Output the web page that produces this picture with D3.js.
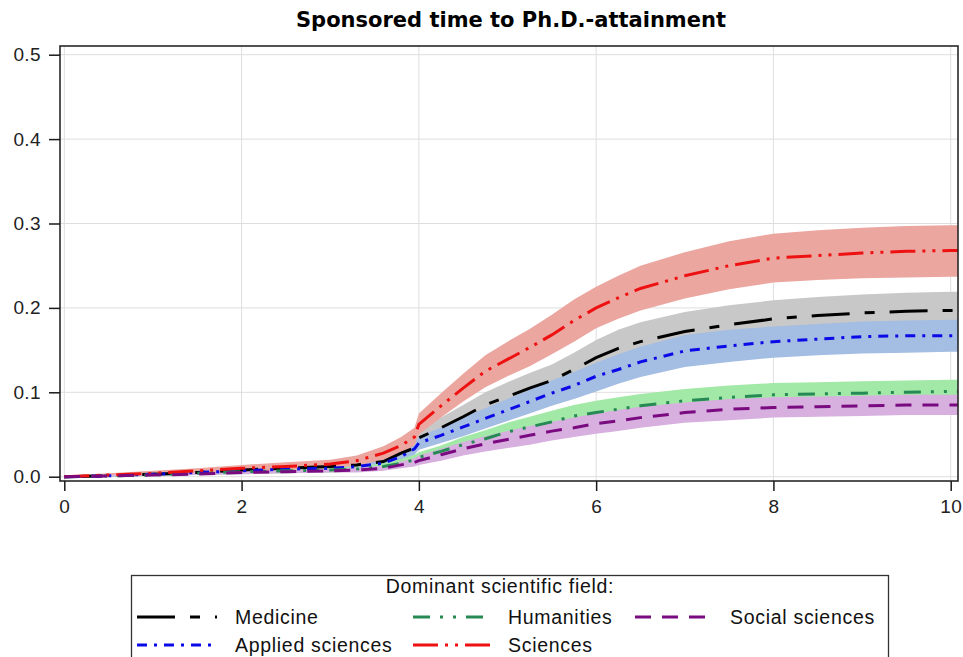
<!DOCTYPE html>
<html>
<head>
<meta charset="utf-8">
<script src="https://cdn.jsdelivr.net/npm/d3@7"></script>
<style>
  html, body { margin: 0; padding: 0; background: #fff; }
  svg { display: block; }
</style>
</head>
<body>
<div id="chart"></div>
<script>
// time axis (years)
const times = [0, 0.5, 1, 1.5, 2, 2.5, 3, 3.3, 3.6, 3.8, 3.95, 4.0, 4.25, 4.5, 4.75, 5.0, 5.25, 5.5, 5.75, 6.0, 6.25, 6.5, 7.0, 7.5, 8.0, 8.5, 9.0, 9.5, 10.0, 10.08];

// cumulative incidence estimates
const medicine     = [0, 0.001, 0.003, 0.005, 0.008, 0.010, 0.012, 0.014, 0.018, 0.028, 0.034, 0.046, 0.058, 0.071, 0.085, 0.095, 0.105, 0.114, 0.127, 0.141, 0.152, 0.160, 0.172, 0.180, 0.187, 0.191, 0.194, 0.196, 0.197, 0.197];
const medicineLo   = [0, 0, 0.001, 0.003, 0.005, 0.007, 0.008, 0.010, 0.013, 0.021, 0.026, 0.036, 0.046, 0.058, 0.070, 0.079, 0.088, 0.096, 0.108, 0.121, 0.131, 0.139, 0.150, 0.157, 0.163, 0.167, 0.170, 0.172, 0.173, 0.173];
const medicineHi   = [0.001, 0.003, 0.005, 0.008, 0.011, 0.013, 0.016, 0.019, 0.024, 0.035, 0.043, 0.056, 0.070, 0.085, 0.100, 0.112, 0.123, 0.133, 0.147, 0.162, 0.174, 0.183, 0.195, 0.203, 0.209, 0.213, 0.216, 0.218, 0.219, 0.219];

const applied      = [0, 0.001, 0.003, 0.005, 0.007, 0.009, 0.010, 0.012, 0.016, 0.024, 0.033, 0.040, 0.049, 0.059, 0.069, 0.079, 0.089, 0.099, 0.108, 0.119, 0.127, 0.136, 0.149, 0.155, 0.160, 0.163, 0.166, 0.167, 0.167, 0.167];
const appliedLo    = [0, 0, 0.001, 0.003, 0.004, 0.006, 0.007, 0.009, 0.012, 0.018, 0.026, 0.032, 0.040, 0.048, 0.057, 0.066, 0.075, 0.084, 0.092, 0.101, 0.110, 0.118, 0.130, 0.136, 0.141, 0.144, 0.146, 0.147, 0.148, 0.148];
const appliedHi    = [0.001, 0.003, 0.005, 0.007, 0.010, 0.012, 0.013, 0.016, 0.021, 0.030, 0.040, 0.048, 0.058, 0.070, 0.081, 0.092, 0.103, 0.114, 0.124, 0.135, 0.145, 0.154, 0.168, 0.174, 0.178, 0.181, 0.184, 0.185, 0.186, 0.186];

const humanities   = [0, 0.001, 0.002, 0.004, 0.006, 0.007, 0.008, 0.009, 0.012, 0.016, 0.020, 0.023, 0.030, 0.038, 0.045, 0.053, 0.059, 0.065, 0.072, 0.076, 0.080, 0.084, 0.090, 0.094, 0.097, 0.098, 0.099, 0.100, 0.101, 0.101];
const humanitiesLo = [0, 0, 0.001, 0.002, 0.003, 0.004, 0.005, 0.006, 0.008, 0.011, 0.014, 0.017, 0.023, 0.029, 0.036, 0.042, 0.048, 0.053, 0.059, 0.063, 0.067, 0.070, 0.076, 0.080, 0.083, 0.084, 0.085, 0.086, 0.087, 0.087];
const humanitiesHi = [0.001, 0.002, 0.004, 0.006, 0.008, 0.010, 0.011, 0.012, 0.016, 0.021, 0.026, 0.029, 0.037, 0.047, 0.055, 0.064, 0.071, 0.078, 0.085, 0.090, 0.094, 0.098, 0.104, 0.108, 0.111, 0.112, 0.113, 0.114, 0.115, 0.115];

const sciences     = [0, 0.002, 0.004, 0.007, 0.010, 0.012, 0.015, 0.019, 0.028, 0.037, 0.047, 0.062, 0.084, 0.105, 0.125, 0.139, 0.153, 0.168, 0.185, 0.200, 0.212, 0.223, 0.238, 0.250, 0.259, 0.262, 0.265, 0.267, 0.268, 0.268];
const sciencesLo   = [0, 0.001, 0.002, 0.004, 0.006, 0.008, 0.010, 0.013, 0.020, 0.028, 0.037, 0.050, 0.070, 0.089, 0.106, 0.119, 0.131, 0.145, 0.160, 0.176, 0.187, 0.197, 0.211, 0.222, 0.230, 0.233, 0.235, 0.236, 0.237, 0.237];
const sciencesHi   = [0.001, 0.004, 0.007, 0.010, 0.014, 0.017, 0.020, 0.025, 0.036, 0.047, 0.058, 0.075, 0.099, 0.122, 0.144, 0.160, 0.175, 0.192, 0.210, 0.225, 0.238, 0.250, 0.266, 0.279, 0.288, 0.292, 0.295, 0.297, 0.298, 0.298];

const social       = [0, 0.001, 0.002, 0.003, 0.005, 0.006, 0.007, 0.008, 0.010, 0.014, 0.017, 0.019, 0.026, 0.033, 0.039, 0.044, 0.049, 0.054, 0.058, 0.063, 0.066, 0.070, 0.076, 0.080, 0.082, 0.083, 0.084, 0.085, 0.085, 0.085];
const socialLo     = [0, 0, 0.001, 0.002, 0.003, 0.004, 0.005, 0.005, 0.007, 0.010, 0.012, 0.014, 0.019, 0.025, 0.030, 0.034, 0.038, 0.043, 0.047, 0.051, 0.054, 0.058, 0.064, 0.067, 0.070, 0.071, 0.072, 0.073, 0.073, 0.073];
const socialHi     = [0.001, 0.002, 0.003, 0.005, 0.007, 0.008, 0.009, 0.011, 0.013, 0.018, 0.022, 0.025, 0.033, 0.041, 0.048, 0.054, 0.060, 0.065, 0.070, 0.075, 0.079, 0.083, 0.088, 0.092, 0.094, 0.095, 0.096, 0.097, 0.097, 0.097];

const xTicks = [0, 2, 4, 6, 8, 10];
const yTicks = [0, 0.1, 0.2, 0.3, 0.4, 0.5];

// group order (bands are drawn in this order)
const groups = [
    {name: "Medicine",         est: medicine,   lo: medicineLo,   hi: medicineHi,   line: "#000000", band: "#c8c8c8", dash: "38,15,10,15"},
    {name: "Applied sciences", est: applied,    lo: appliedLo,    hi: appliedHi,    line: "#0a0ae6", band: "#a3bde3", dash: "10,7,3,7"},
    {name: "Humanities",       est: humanities, lo: humanitiesLo, hi: humanitiesHi, line: "#268a55", band: "#a2e8a6", dash: "17,10,3,10,3,10"},
    {name: "Sciences",         est: sciences,   lo: sciencesLo,   hi: sciencesHi,   line: "#ee1111", band: "#eba6a0", dash: "25,7,3,7,3,7"},
    {name: "Social sciences",  est: social,     lo: socialLo,     hi: socialHi,     line: "#7a0a80", band: "#d7b0df", dash: "16,11"}
];

const total_width = 963, total_height = 657;
const frame = {left: 60, top: 46, right: 958, bottom: 481};
const font = "'Liberation Sans', Arial, sans-serif";

const x = d3.scaleLinear().domain([0, 10]).range([64.3, 950.7]);
const y = d3.scaleLinear().domain([0, 0.5]).range([476.7, 54.7]);

const svg = d3.select("#chart").append("svg")
    .attr("width", total_width)
    .attr("height", total_height)
    .attr("viewBox", [0, 0, total_width, total_height]);

svg.append("rect")
    .attr("width", total_width).attr("height", total_height)
    .attr("fill", "#fff");

// title
svg.append("text")
    .attr("x", 511)
    .attr("y", 27)
    .attr("text-anchor", "middle")
    .attr("font-family", "'DejaVu Sans', Verdana, sans-serif")
    .attr("font-weight", "bold")
    .attr("font-size", 21)
    .attr("fill", "#000")
    .text("Sponsored time to Ph.D.-attainment");

svg.append("clipPath").attr("id", "plotclip")
    .append("rect")
    .attr("x", frame.left).attr("y", frame.top)
    .attr("width", frame.right - frame.left)
    .attr("height", frame.bottom - frame.top);

// grid
const grid = svg.append("g").attr("stroke", "#dedede").attr("stroke-width", 1);
grid.selectAll(".gx").data(xTicks).join("line")
    .attr("x1", d => x(d)).attr("x2", d => x(d))
    .attr("y1", frame.top).attr("y2", frame.bottom);
grid.selectAll(".gy").data(yTicks).join("line")
    .attr("x1", frame.left).attr("x2", frame.right)
    .attr("y1", d => y(d)).attr("y2", d => y(d));

const plot = svg.append("g").attr("clip-path", "url(#plotclip)");

const area = d3.area()
    .x((d, i) => x(times[i]))
    .y0(d => y(d[0]))
    .y1(d => y(d[1]));

const line = d3.line()
    .x((d, i) => x(times[i]))
    .y(d => y(d));

plot.selectAll(".band").data(groups).join("path")
    .attr("class", "band")
    .attr("fill", g => g.band)
    .attr("d", g => area(g.lo.map((v, i) => [v, g.hi[i]])));

plot.selectAll(".curve").data(groups).join("path")
    .attr("class", "curve")
    .attr("fill", "none")
    .attr("stroke", g => g.line)
    .attr("stroke-width", 3)
    .attr("stroke-dasharray", g => g.dash)
    .attr("d", g => line(g.est));

// frame
svg.append("rect")
    .attr("x", frame.left).attr("y", frame.top)
    .attr("width", frame.right - frame.left)
    .attr("height", frame.bottom - frame.top)
    .attr("fill", "none")
    .attr("stroke", "#1a1a1a")
    .attr("stroke-width", 1.5);

// axes
const yAxis = svg.append("g")
    .attr("transform", `translate(${frame.left},0)`)
    .call(d3.axisLeft(y).tickValues(yTicks).tickFormat(d3.format(".1f")).tickSize(11).tickPadding(8));
const xAxis = svg.append("g")
    .attr("transform", `translate(0,${frame.bottom})`)
    .call(d3.axisBottom(x).tickValues(xTicks).tickFormat(d3.format("d")).tickSize(10).tickPadding(9));

[yAxis, xAxis].forEach(a => {
    a.select(".domain").remove();
    a.selectAll(".tick line").attr("stroke", "#1a1a1a").attr("stroke-width", 1.5);
    a.selectAll(".tick text")
        .attr("fill", "#222")
        .attr("font-family", font)
        .attr("font-size", 19)
        .attr("letter-spacing", 0.4);
});

// legend
const legend = svg.append("g");
legend.append("rect")
    .attr("x", 131.5).attr("y", 575.5)
    .attr("width", 757).attr("height", 100)
    .attr("fill", "#fff")
    .attr("stroke", "#333")
    .attr("stroke-width", 1.3);

legend.append("text")
    .attr("x", 500).attr("y", 593)
    .attr("text-anchor", "middle")
    .attr("font-family", font)
    .attr("font-size", 19.5)
    .attr("letter-spacing", 0.7)
    .attr("fill", "#111")
    .text("Dominant scientific field:");

// column-major placement: 2 rows
const colX = [137, 413, 635];
const rowY = [617, 645];
const entries = legend.selectAll(".entry").data(groups).join("g")
    .attr("class", "entry")
    .attr("transform", (g, i) => `translate(${colX[Math.floor(i / 2)]},${rowY[i % 2]})`);

entries.append("line")
    .attr("x1", 0).attr("x2", 80)
    .attr("stroke", g => g.line)
    .attr("stroke-width", 3)
    .attr("stroke-dasharray", g => g.dash);

entries.append("text")
    .attr("x", (g, i) => Math.floor(i / 2) == 0 ? 98 : 95)
    .attr("y", 6.5)
    .attr("font-family", font)
    .attr("font-size", 19.5)
    .attr("letter-spacing", 0.7)
    .attr("fill", "#111")
    .text(g => g.name);
</script>
</body>
</html>
